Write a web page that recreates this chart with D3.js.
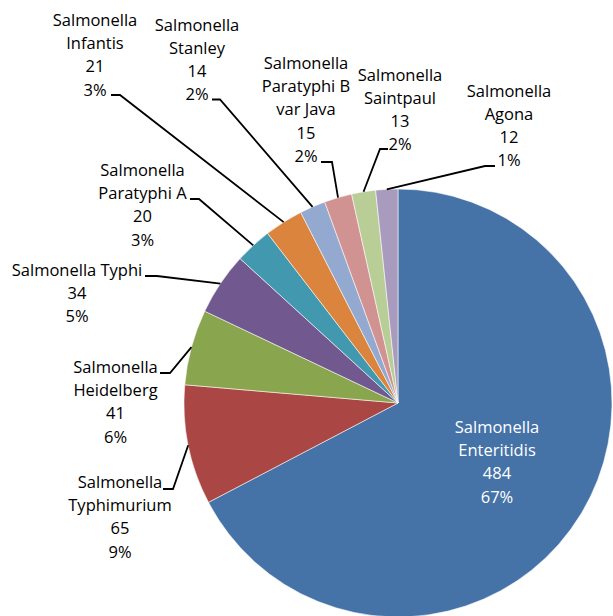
<!DOCTYPE html>
<html>
<head>
<meta charset="utf-8">
<script src="https://cdn.jsdelivr.net/npm/d3@7"></script>
<style>
  html, body { margin: 0; padding: 0; background: #fff; }
  svg { display: block; }
  text { font-family: "Open Sans", "Liberation Sans", sans-serif; font-size: 16.5px; }
</style>
</head>
<body>
<svg id="chart" width="613" height="616"></svg>
<script>
// Serotype breakdown of Salmonella isolates
const serotypes = [
  ["Salmonella", "Enteritidis"],
  ["Salmonella", "Typhimurium"],
  ["Salmonella", "Heidelberg"],
  ["Salmonella Typhi"],
  ["Salmonella", "Paratyphi A"],
  ["Salmonella", "Infantis"],
  ["Salmonella", "Stanley"],
  ["Salmonella", "Paratyphi B", "var Java"],
  ["Salmonella", "Saintpaul"],
  ["Salmonella", "Agona"]
];
const counts = [484, 65, 41, 34, 20, 21, 14, 15, 13, 12];
const percentLabels = ["67%", "9%", "6%", "5%", "3%", "3%", "2%", "2%", "2%", "1%"];
const colors = ["#4572A7", "#AA4643", "#89A54E", "#71588F", "#4198AF",
                "#DB843D", "#93A9CF", "#D19392", "#B9CD96", "#A99BBD"];

// Label placement: text centre x, first baseline y, and the leader's
// horizontal tick (from x0 to x1 at y); null leader = label inside slice.
const labelLayout = [
  { cx: 497,   y: 433,   leader: null, inside: true },
  { cx: 120,   y: 488,   leader: { x0: 163, x1: 173, y: 489 } },
  { cx: 115.5, y: 373,   leader: { x0: 160, x1: 170, y: 373 } },
  { cx: 77,    y: 276,   leader: { x0: 145, x1: 157, y: 276 } },
  { cx: 142.5, y: 176,   leader: { x0: 190, x1: 199, y: 199 } },
  { cx: 95,    y: 26,    leader: { x0: 111, x1: 120, y: 95 } },
  { cx: 197,   y: 30.5,  leader: { x0: 212, x1: 220, y: 99.5 } },
  { cx: 306,   y: 69,    leader: { x0: 321, x1: 332, y: 162 } },
  { cx: 400,   y: 80.5,  leader: { x0: 388, x1: 380, y: 149 } },
  { cx: 509,   y: 96.7,  leader: { x0: 495, x1: 485, y: 166 } }
];

const data = counts.map((c, i) => ({
  lines: serotypes[i], count: c, pct: percentLabels[i],
  color: colors[i], layout: labelLayout[i]
}));

const cx = 398, cy = 403, radius = 214;
const lineHeight = 23.2;

const svg = d3.select("#chart");
const g = svg.append("g").attr("transform", `translate(${cx},${cy})`);

const pie = d3.pie().sort(null).value(d => d.count)
  .startAngle(0).endAngle(2 * Math.PI);
const arcs = pie(data);

const arc = d3.arc().innerRadius(0).outerRadius(radius);
const edge = d3.arc().innerRadius(radius).outerRadius(radius);

g.selectAll("path.slice")
  .data(arcs)
  .join("path")
  .attr("class", "slice")
  .attr("d", arc)
  .attr("fill", d => d.data.color)
  .attr("stroke", "#fff")
  .attr("stroke-opacity", 0.7)
  .attr("stroke-width", 0.8);

// Leader lines from label tick to slice edge at mid-angle
svg.selectAll("path.leader")
  .data(arcs.filter(d => d.data.layout.leader))
  .join("path")
  .attr("class", "leader")
  .attr("fill", "none")
  .attr("stroke", "#000")
  .attr("stroke-width", 1.8)
  .attr("d", d => {
    const L = d.data.layout.leader;
    const [ex, ey] = edge.centroid(d);
    return `M${L.x0},${L.y}L${L.x1},${L.y}L${cx + ex},${cy + ey}`;
  });

// Labels: name lines, count, percentage
const labels = svg.selectAll("text.label")
  .data(arcs)
  .join("text")
  .attr("class", "label")
  .attr("text-anchor", "middle")
  .attr("fill", d => d.data.layout.inside ? "#fff" : "#000");

labels.each(function(d) {
  const t = d3.select(this);
  const rows = [...d.data.lines, String(d.data.count), d.data.pct];
  rows.forEach((row, i) => {
    t.append("tspan")
      .attr("x", d.data.layout.cx)
      .attr("y", d.data.layout.y + i * lineHeight)
      .text(row);
  });
});
</script>
</body>
</html>
